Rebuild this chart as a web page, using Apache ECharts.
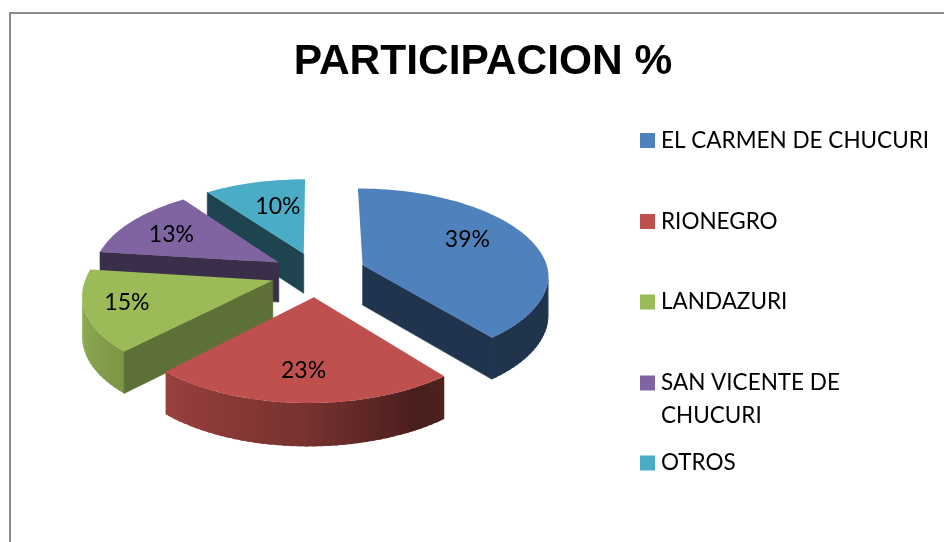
<!DOCTYPE html>
<html>
<head>
<meta charset="utf-8">
<style>html,body{margin:0;padding:0;background:#fff}#chart{width:944px;height:542px}</style>
<script src="https://cdn.jsdelivr.net/npm/echarts@6/dist/echarts.min.js"></script>
</head>
<body>
<div id="chart"></div>
<script>
const categories = ['EL CARMEN DE CHUCURI', 'RIONEGRO', 'LANDAZURI', 'SAN VICENTE DE\nCHUCURI', 'OTROS']
const values = [39, 23, 15, 13, 10]
const colors = ['#4F81BD', '#C0504D', '#9BBB59', '#8064A2', '#4BACC6']
const cutShade = [0.41, 0.5, 0.6, 0.46, 0.4]
const explode = [49, 50, 46, 45, 44]
const labelRadius = [0.62, 0.75, 0.8, 0.65, 0.52]
const labelShift = [[1, -8], [-1, -3], [3, -3], [-10, -1], [1, -8]]
const paintOrder = [5, 6, 3, 2, 1]
const legendCenters = [140.5, 221.5, 302, 383, 463]

// camera used to fake the excel 3d pie
const cx = 317, cy = 273, R = 186, tilt = 0.47, D = 1600, H = 40, skew = 0.03
const total = values.reduce((a, b) => a + b, 0)

function project (x, y, z) {
  const p = D / (D - y)
  return [cx + x * p - Math.max(y, 0) * skew, cy + y * tilt * p + z * Math.sqrt(p)]
}

function rimShade (deg) {
  const stops = [[90, 0.41], [141, 0.41], [150, 0.38], [180, 0.62], [223, 0.8], [250, 0.9], [360, 0.9]]
  if (deg <= stops[0][0]) return stops[0][1]
  for (let i = 1; i < stops.length; i++) {
    if (deg <= stops[i][0]) {
      const t = (deg - stops[i - 1][0]) / (stops[i][0] - stops[i - 1][0])
      return stops[i - 1][1] + (stops[i][1] - stops[i - 1][1]) * t
    }
  }
  return 0.9
}

function shadeColor (hex, f) {
  const n = parseInt(hex.slice(1), 16)
  const c = [n >> 16, (n >> 8) & 255, n & 255].map(v => Math.round(v * f))
  return 'rgb(' + c.join(',') + ')'
}

function area (pts) {
  let s = 0
  for (let i = 0; i < pts.length; i++) {
    const a = pts[i], b = pts[(i + 1) % pts.length]
    s += a[0] * b[1] - b[0] * a[1]
  }
  return s
}

function renderSlice (index) {
  let before = 0
  for (let i = 0; i < index; i++) before += values[i]
  const a0 = before / total * 360
  const a1 = (before + values[index]) / total * 360
  const mid = (a0 + a1) / 2 * Math.PI / 180
  const ox = Math.sin(mid) * explode[index]
  const oy = -Math.cos(mid) * explode[index]
  const color = colors[index]

  const world = (deg, r, z) => {
    const t = deg * Math.PI / 180
    return project(ox + Math.sin(t) * r, oy - Math.cos(t) * r, z)
  }

  const children = []
  const addWall = (p, q, fill, minArea) => {
    const pts = [p(0), q(0), q(H), p(H)]
    if (area(pts) < -minArea) {
      children.push({
        type: 'polygon',
        shape: { points: pts },
        style: { fill: fill, stroke: fill, lineWidth: minArea ? 0.6 : 0 }
      })
    }
  }

  const apex = z => project(ox, oy, z)
  const cut = shadeColor(color, cutShade[index])
  const top = [apex(0)]
  const steps = Math.ceil((a1 - a0) / 2)
  for (let s = 0; s < steps; s++) {
    const d0 = a0 + (a1 - a0) * s / steps
    const d1 = a0 + (a1 - a0) * (s + 1) / steps
    top.push(world(d0, R, 0))
    // facets overlap a bit so no seam shows between them
    const d2 = Math.min(d1 + 1, a1)
    addWall(z => world(d0, R, z), z => world(d2, R, z), shadeColor(color, rimShade((d0 + d1) / 2)), 0)
  }
  // near edge-on cut faces are dropped, excel shows no sliver there
  addWall(apex, z => world(a0, R, z), cut, 800)
  addWall(z => world(a1, R, z), apex, cut, 800)
  top.push(world(a1, R, 0))
  children.push({ type: 'polygon', shape: { points: top }, style: { fill: color } })

  const lp = project(ox + Math.sin(mid) * R * labelRadius[index], oy - Math.cos(mid) * R * labelRadius[index], 0)
  children.push({
    type: 'text',
    style: {
      x: lp[0] + labelShift[index][0],
      y: lp[1] + labelShift[index][1],
      text: values[index] + '%',
      fill: '#000',
      font: '23px Lato',
      align: 'center',
      verticalAlign: 'middle'
    }
  })
  return { type: 'group', children: children }
}

const seriesList = categories.map((name, i) => ({
  type: 'custom',
  name: name,
  coordinateSystem: 'none',
  z: paintOrder[i],
  silent: true,
  itemStyle: { color: colors[i] },
  data: [[values[i]]],
  renderItem: () => renderSlice(i)
}))

const legendList = categories.map((name, i) => {
  const lines = name.split('\n').length
  return {
    data: [name],
    left: 640,
    // two line name gets a blank first line so the marker sits on the first text line
    top: legendCenters[i] - (lines > 1 ? 49.5 : 16.5),
    padding: 0,
    itemWidth: 15,
    itemHeight: 15,
    itemGap: 0,
    icon: 'rect',
    selectedMode: false,
    formatter: n => (n.indexOf('\n') > 0 ? ' \n' + n : n),
    textStyle: { fontFamily: 'Lato', fontSize: 22.5, lineHeight: 33, color: '#000', padding: [0, 0, 0, 1] }
  }
})

const chart = echarts.init(document.getElementById('chart'))
chart.setOption({
  animation: false,
  backgroundColor: '#fff',
  title: {
    text: 'PARTICIPACION %',
    left: 483,
    top: 41,
    textAlign: 'center',
    padding: 0,
    textStyle: { fontFamily: 'Liberation Sans', fontWeight: 'bold', fontSize: 42.5, color: '#000' }
  },
  graphic: [{
    type: 'rect',
    silent: true,
    shape: { x: 10, y: 13, width: 960, height: 560 },
    style: { fill: 'transparent', stroke: '#8c8c8c', lineWidth: 2 }
  }],
  legend: legendList,
  series: seriesList
})
</script>
</body>
</html>
